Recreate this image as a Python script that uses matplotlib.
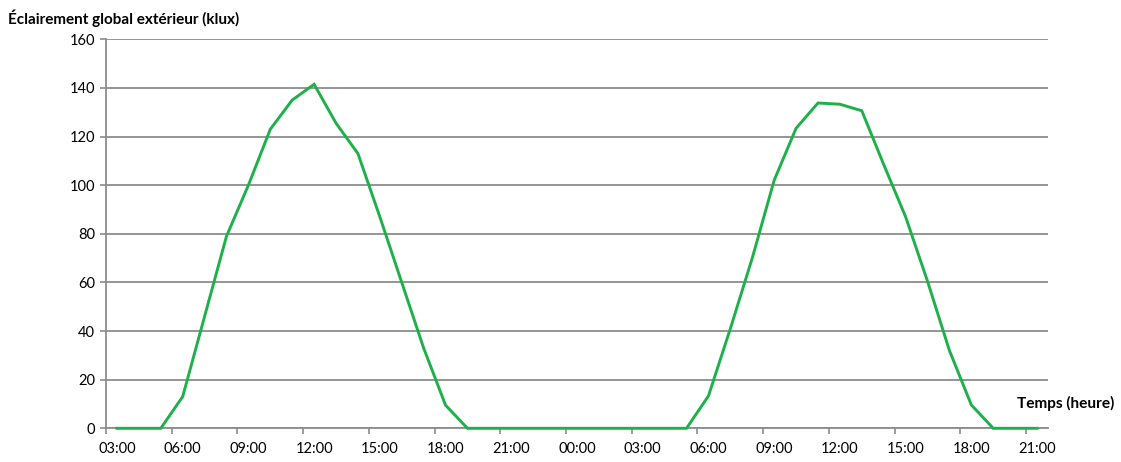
import matplotlib
matplotlib.use("Agg")
import matplotlib.pyplot as plt
import numpy as np

# Hourly categories from 03:00 (day 1) to 21:00 (day 2)
hours = [f"{(3 + i) % 24:02d}:00" for i in range(43)]

illuminance = [
    0, 0, 0, 13, 46, 79, 100, 123, 135, 141.5, 125.5, 113, 87, 60, 33, 9.5, 0,
    0, 0, 0, 0, 0, 0, 0, 0, 0, 0,
    13.3, 41, 70, 102, 123.4, 133.8, 133.3, 130.6, 108.5, 87, 60.5, 32, 9.6, 0, 0, 0,
]

y_ticks = [0, 20, 40, 60, 80, 100, 120, 140, 160]
label_step = 3

title_text = "Éclairement global extérieur (klux)"
xlabel_text = "Temps (heure)"

plt.rcParams['font.family'] = ['Lato', 'DejaVu Sans']

W, H = 1121, 462
fig = plt.figure(figsize=(W / 100, H / 100), dpi=100)
ax = fig.add_axes([106 / W, 1 - 428.3 / H, (1048 - 106) / W, (428.3 - 39.3) / H])

grid_col = "#8C8C8C"
line_col = "#1DB04B"

x = np.arange(len(hours))
ax.plot(x, illuminance, color=line_col, lw=2.1, solid_joinstyle='miter', zorder=3, clip_on=False)

ax.set_xlim(-0.5, len(hours) - 0.5)
ax.set_ylim(0, 160)

# y axis
ax.set_yticks(y_ticks)
ax.set_yticklabels([str(v) for v in y_ticks], fontsize=10.5)
ax.yaxis.grid(True, color=grid_col, lw=1.3)
ax.set_axisbelow(True)

# x axis: tick marks between categories, labels centered on categories
major = np.arange(-0.5, len(hours) - 0.5, label_step)
ax.set_xticks(major)
ax.set_xticklabels([])
ax.set_xticks(x[::label_step], minor=True)
ax.set_xticklabels(hours[::label_step], minor=True, fontsize=10.5)
ax.tick_params(axis='x', which='major', direction='out', length=4, width=1.2, color=grid_col)
ax.tick_params(axis='x', which='minor', length=0, pad=10)
ax.tick_params(axis='y', direction='out', length=4, width=1.2, color=grid_col, pad=4)

for s in ['top', 'right']:
    ax.spines[s].set_visible(False)
for s in ['left', 'bottom']:
    ax.spines[s].set_color(grid_col)
    ax.spines[s].set_linewidth(1.3)

fig.text(8 / W, 1 - 18 / H, title_text, fontsize=11, fontweight='bold', ha='left', va='center')
fig.text(1114 / W, 1 - 403 / H, xlabel_text, fontsize=11.1, fontweight='bold', ha='right', va='center')

fig.savefig("out.png", dpi=100)
